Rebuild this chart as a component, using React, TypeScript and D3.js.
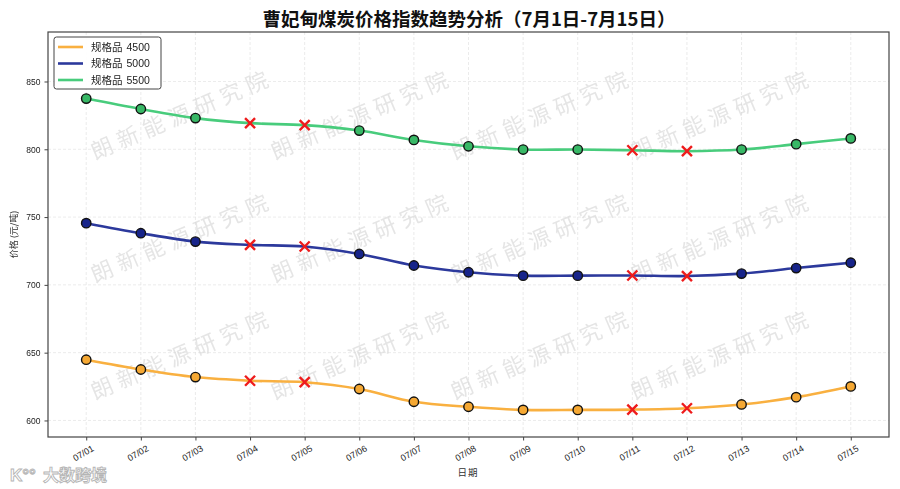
import * as d3 from "d3";
import { useEffect, useRef } from "react";

const dates = ["07/01", "07/02", "07/03", "07/04", "07/05", "07/06", "07/07", "07/08",
    "07/09", "07/10", "07/11", "07/12", "07/13", "07/14", "07/15"];
const price4500 = [644.8, 637.6, 632.0, 629.3, 628.2, 623.2, 613.8, 610.1, 607.8, 607.8, 608.0, 609.0, 611.8, 617.2, 625.1];
const price5000 = [745.5, 738.1, 731.9, 729.5, 728.3, 722.8, 714.3, 709.3, 706.8, 706.8, 706.9, 706.5, 708.3, 712.4, 716.3];
const price5500 = [837.4, 829.7, 823.0, 819.3, 817.8, 813.8, 806.9, 802.2, 799.8, 799.8, 799.3, 798.6, 799.8, 803.8, 808.0];
// days drawn with a red cross instead of a dot
const missingDays = ["07/04", "07/05", "07/11", "07/12"];
const seriesNames = ["规格品 4500", "规格品 5000", "规格品 5500"];
const yTicks = [600, 650, 700, 750, 800, 850];

const W = 900;
const H = 489;
const plot = { left: 48, right: 889, top: 32, bottom: 437 };
const cjk = "'Noto Sans CJK SC', 'Liberation Sans', sans-serif";
const sans = "'Liberation Sans', Arial, sans-serif";

function drawChart(svgEl: SVGSVGElement) {
    const svg = d3.select(svgEl);
    svg.selectAll("*").remove();

    const series = [
        { name: seriesNames[0], values: price4500, line: "#f9b040", fill: "#f5a833" },
        { name: seriesNames[1], values: price5000, line: "#2c399c", fill: "#17248a" },
        { name: seriesNames[2], values: price5500, line: "#48cc7c", fill: "#38b866" },
    ];

    const x = d3.scalePoint<string>().domain(dates).range([plot.left, plot.right]).padding(0.7);
    const y = d3.scaleLinear().domain([587.8, 886.5]).range([plot.bottom, plot.top]);

    svg.append("rect").attr("width", W).attr("height", H).attr("fill", "#fff");

    // grid
    const grid = svg.append("g").attr("stroke", "#e2e2e2").attr("stroke-dasharray", "3,2").attr("stroke-width", 0.7);
    grid.selectAll("line.v").data(dates).enter().append("line")
        .attr("x1", d => x(d)!).attr("x2", d => x(d)!)
        .attr("y1", plot.top).attr("y2", plot.bottom);
    grid.selectAll("line.h").data(yTicks).enter().append("line")
        .attr("x1", plot.left).attr("x2", plot.right)
        .attr("y1", d => y(d)).attr("y2", d => y(d));

    // watermark
    const wm = svg.append("g").attr("fill", "#d4d4d4").attr("opacity", 0.6)
        .style("font-family", "'Noto Sans CJK SC', serif").style("font-size", "22px");
    [160, 283, 400].forEach(by => {
        [95, 275, 455, 635].forEach(bx => {
            wm.append("text")
                .attr("transform", `translate(${bx},${by}) rotate(-23)`)
                .attr("letter-spacing", "6px")
                .text("朗新能源研究院");
        });
    });

    // lines
    const lineGen = d3.line<number>()
        .x((_, i) => x(dates[i])!)
        .y(d => y(d))
        .curve(d3.curveCatmullRom.alpha(0.5));

    series.forEach(s => {
        svg.append("path")
            .attr("d", lineGen(s.values))
            .attr("fill", "none")
            .attr("stroke", s.line)
            .attr("stroke-width", 2.6)
            .attr("stroke-linecap", "round");
    });

    // markers
    series.forEach(s => {
        const pts = s.values.map((v, i) => ({ date: dates[i], v }));
        svg.selectAll(null)
            .data(pts.filter(p => !missingDays.includes(p.date)))
            .enter()
            .append("circle")
            .attr("cx", d => x(d.date)!)
            .attr("cy", d => y(d.v))
            .attr("r", 4.7)
            .attr("fill", s.fill)
            .attr("stroke", "#111")
            .attr("stroke-width", 1.4);
        const crosses = svg.selectAll(null)
            .data(pts.filter(p => missingDays.includes(p.date)))
            .enter()
            .append("g")
            .attr("transform", d => `translate(${x(d.date)},${y(d.v)})`);
        crosses.append("path")
            .attr("d", "M-5,-5L5,5M-5,5L5,-5")
            .attr("stroke", "#ee1c1c")
            .attr("stroke-width", 2.4);
    });

    // spines
    svg.append("rect")
        .attr("x", plot.left).attr("y", plot.top)
        .attr("width", plot.right - plot.left).attr("height", plot.bottom - plot.top)
        .attr("fill", "none").attr("stroke", "#444").attr("stroke-width", 1.2);

    // y axis
    const yAxis = svg.append("g").attr("transform", `translate(${plot.left},0)`)
        .call(d3.axisLeft(y).tickValues(yTicks).tickSize(3.5).tickPadding(4).tickFormat(d3.format("d")));
    yAxis.select(".domain").remove();
    yAxis.selectAll("line").attr("stroke", "#444");
    yAxis.selectAll("text").style("font-family", sans).style("font-size", "8.5px").attr("fill", "#222");

    // x axis
    const xAxis = svg.append("g").attr("transform", `translate(0,${plot.bottom})`)
        .call(d3.axisBottom(x).tickSize(3.5).tickPadding(3));
    xAxis.select(".domain").remove();
    xAxis.selectAll("line").attr("stroke", "#444");
    xAxis.selectAll("text")
        .style("font-family", sans).style("font-size", "9px").attr("fill", "#222")
        .attr("text-anchor", "end")
        .attr("dy", "0.6em")
        .attr("transform", "translate(2,3) rotate(-30)");

    // axis titles
    svg.append("text")
        .attr("x", 468).attr("y", 476)
        .attr("text-anchor", "middle")
        .style("font-family", cjk).style("font-size", "9.5px").attr("fill", "#333")
        .attr("letter-spacing", "1px")
        .text("日期");
    svg.append("text")
        .attr("transform", `translate(17,${(plot.top + plot.bottom) / 2}) rotate(-90)`)
        .attr("text-anchor", "middle")
        .style("font-family", cjk).style("font-size", "9px").attr("fill", "#333")
        .text("价格 (元/吨)");

    // title
    svg.append("text")
        .attr("x", 469).attr("y", 26)
        .attr("text-anchor", "middle")
        .style("font-family", cjk).style("font-size", "18.5px").style("font-weight", "bold")
        .attr("fill", "#111")
        .text("曹妃甸煤炭价格指数趋势分析（7月1日-7月15日）");

    // legend
    const lg = svg.append("g").attr("transform", "translate(54,37)");
    lg.append("rect")
        .attr("width", 107).attr("height", 52).attr("rx", 2.5)
        .attr("fill", "#fff").attr("fill-opacity", 0.9)
        .attr("stroke", "#444").attr("stroke-width", 1);
    series.forEach((s, i) => {
        const row = lg.append("g").attr("transform", `translate(0,${10 + i * 16.5})`);
        row.append("line").attr("x1", 4).attr("x2", 29).attr("stroke", s.line).attr("stroke-width", 2.6);
        const [label, num] = s.name.split(" ");
        const t = row.append("text")
            .attr("x", 37).attr("y", 3.8)
            .style("font-size", "10.5px").attr("fill", "#222");
        t.append("tspan").style("font-family", cjk).text(label);
        t.append("tspan").attr("dx", 4).style("font-family", sans).text(num);
    });

    // corner logo
    svg.append("text")
        .attr("x", 10).attr("y", 481)
        .style("font-family", sans).style("font-size", "17px").style("font-weight", "bold")
        .attr("fill", "#fff").attr("stroke", "#b5b5b5").attr("stroke-width", 0.9)
        .text("K°°");
    svg.append("text")
        .attr("x", 43).attr("y", 481)
        .style("font-family", cjk).style("font-size", "16px").style("font-weight", "bold")
        .attr("fill", "#fff").attr("stroke", "#b5b5b5").attr("stroke-width", 0.9)
        .text("大数跨境");
}

export default function App() {
    const svgRef = useRef<SVGSVGElement>(null);
    useEffect(() => {
        if (svgRef.current) drawChart(svgRef.current);
    }, []);

    return (
        <svg ref={svgRef} width={W} height={H}
            style={{ position: "absolute", left: 0, top: 0, display: "block" }} />
    );
}
